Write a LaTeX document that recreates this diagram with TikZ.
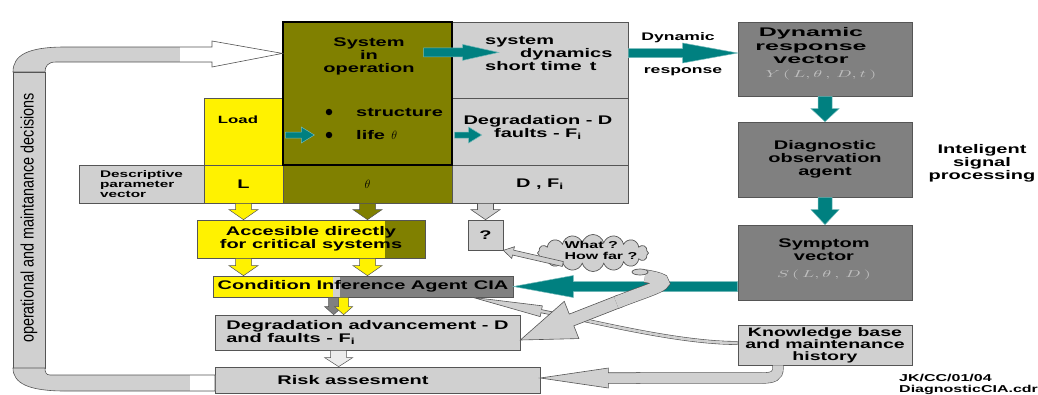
\documentclass[tikz,border=0pt]{standalone}
\usepackage{fontspec}
\setmainfont{Liberation Sans}[FakeStretch=1.6]
\newfontfamily\widefont{Liberation Sans}[FakeStretch=2.0]
\newfontfamily\narrowfont{Liberation Sans}[FakeStretch=0.8]
\usetikzlibrary{calc,shapes.symbols,shapes.geometric}

\definecolor{oliv}{HTML}{808000}
\definecolor{ltgray}{HTML}{D0D0D0}
\definecolor{dkgray}{HTML}{808080}
\definecolor{tealc}{HTML}{008080}
\definecolor{edge}{HTML}{555555}

\tikzset{
  box/.style={draw=edge, line width=0.7pt, inner sep=0pt},
  lbl/.style={font=\bfseries\fontsize{12.5}{13}\selectfont, align=center, inner sep=0pt},
  small/.style={font=\bfseries\fontsize{10}{11}\selectfont, align=left, inner sep=0pt},
  blk/.style n args={3}{to path={
    -- ($(\tikztostart)!#1!90:(\tikztotarget)$)
    -- ($($(\tikztotarget)!#3!(\tikztostart)$)!#1!-90:(\tikztostart)$)
    -- ($($(\tikztotarget)!#3!(\tikztostart)$)!#2!-90:(\tikztostart)$)
    -- (\tikztotarget)
    -- ($($(\tikztotarget)!#3!(\tikztostart)$)!#2!90:(\tikztostart)$)
    -- ($($(\tikztotarget)!#3!(\tikztostart)$)!#1!90:(\tikztostart)$)
    -- ($(\tikztostart)!#1!-90:(\tikztotarget)$)
    -- cycle}},
  tealarr/.style={fill=tealc, draw=tealc!55!white, line width=0.5pt},
  grayarr/.style={fill=ltgray, draw=edge, line width=0.6pt},
  band/.style={draw=ltgray, line width=#1, preaction={draw=edge, line width=#1+1.2pt}},
}

\begin{document}
\begin{tikzpicture}[x=1pt,y=-1pt]
\useasboundingbox (0,0) rectangle (1038,394);

% parameter row
\node[box, fill=ltgray, minimum width=125pt, minimum height=38pt, font=\bfseries\fontsize{9.6}{10}\selectfont, align=left] (desc) at (141.5,184) {Descriptive\\parameter\\vector};
\node[box, fill=yellow, minimum width=79pt, minimum height=38pt, lbl] (lvec) at (243.5,184) {L};
\node[box, fill=oliv, minimum width=169pt, minimum height=38pt, lbl] (thvec) at (367.5,184) {$\theta$};
\node[box, fill=ltgray, minimum width=176pt, minimum height=38pt, lbl] (dfvec) at (540,184) {D , F\textsubscript{i}};

% system blocks
\node[box, fill=yellow, minimum width=79pt, minimum height=67pt] (load) at (243.5,131.5) {};
\node[box, fill=ltgray, minimum width=176pt, minimum height=76pt] (dyn) at (540,60) {};
\node[box, fill=ltgray, minimum width=176pt, minimum height=67pt] (degr) at (540,131.5) {};
\node[box, fill=oliv, draw=black, line width=1.2pt, minimum width=169pt, minimum height=143pt] (sys) at (367.5,93.5) {};

\node[lbl] (systxt) at (369,56) {System\\in\\operation};
\node[circle, fill=black, inner sep=0pt, minimum size=6.5pt] (bul1) at (329,112) {};
\node[circle, fill=black, inner sep=0pt, minimum size=6.5pt] (bul2) at (329,135) {};
\node[lbl, anchor=west] (struct) at (356,112) {structure};
\node[lbl, anchor=west] (life) at (356,135) {life\enspace$\theta$};
\node[lbl, anchor=west, align=left] (dyntxt) at (485,53) {system\\\hspace*{35pt}dynamics\\short time\hspace{8pt}t};
\node[lbl] (degrtxt) at (538,127.5) {Degradation - D\\faults - F\textsubscript{i}};
\node[lbl, font=\bfseries\fontsize{10.5}{12}\selectfont] (loadtxt) at (238,120) {Load};

% diagnostic chain
\node[box, fill=dkgray, minimum width=174pt, minimum height=74pt] (dresp) at (825,59) {};
\node[lbl, font=\widefont\bfseries\fontsize{12.5}{13.5}\selectfont] (dresptxt) at (811,46) {Dynamic\\response\\vector};
\node[inner sep=0pt, text=black!25] (yform) at (821,75) {\scalebox{1.8}[1]{\fontsize{10}{10}\selectfont$Y\,(\,L,\theta\,,\,D,t\,)$}};
\node[box, fill=dkgray, minimum width=174pt, minimum height=75pt, lbl] (diag) at (825,159.5) {Diagnostic\\observation\\agent};
\node[box, fill=dkgray, minimum width=174pt, minimum height=75pt] (symp) at (825,262.5) {};
\node[lbl] (symptxt) at (824,250) {Symptom\\vector};
\node[inner sep=0pt, text=black!25] (sform) at (824,275) {\scalebox{1.8}[1]{\fontsize{10}{10}\selectfont$S\,(\,L,\theta\,,\,D\,)$}};
\node[box, fill=ltgray, minimum width=174pt, minimum height=40pt, lbl, font=\bfseries\fontsize{12.2}{12}\selectfont] (know) at (825,345) {Knowledge base\\and maintenance\\history};
\node[lbl] (isp) at (982,163) {Inteligent\\signal\\processing};
\node[lbl, font=\bfseries\fontsize{11}{12}\selectfont] (dynlab) at (678,38) {Dynamic};
\node[lbl, font=\bfseries\fontsize{11}{12}\selectfont] (resplab) at (683,72) {response};

% inference part
\node[box, fill=yellow, minimum width=228pt, minimum height=38pt, lbl,
  path picture={\fill[oliv] ([xshift=-40pt]path picture bounding box.north east) rectangle (path picture bounding box.south east);}] (acc) at (311,239) {Accesible directly\\for critical systems};
\node[box, fill=dkgray, minimum width=300pt, minimum height=21pt, lbl,
  path picture={\fill[yellow] (path picture bounding box.north west) rectangle ([xshift=120pt]path picture bounding box.south west);
    \fill[ltgray] ([xshift=120pt]path picture bounding box.north west) rectangle ([xshift=127pt]path picture bounding box.south west);}] (cia) at (363,286.5) {Condition Inference Agent\enspace CIA};
\node[box, fill=ltgray, minimum width=35pt, minimum height=30pt, lbl] (qm) at (485.5,235) {?};
\node[box, fill=ltgray, minimum width=305pt, minimum height=35pt, lbl, align=left] (degadv) at (367.5,332.5) {Degradation advancement - D\\and faults - F\textsubscript{i}};
\node[box, fill=ltgray, minimum width=325pt, minimum height=26pt] (risk) at (377.5,380) {};
\node[lbl] (risktxt) at (353,380) {Risk assesment};
\node[small] (foot) at (899,384) [anchor=west] {JK/CC/01/04\\DiagnosticCIA.cdr};

% decision loop
\coordinate (looptip) at ([yshift=-32pt]sys.north west);
\filldraw[fill=ltgray, draw=edge, line width=0.6pt, path picture={\fill[white] (180,30) rectangle (290,80);}]
  (13,72) .. controls (13,55) and (28,47) .. (65,47) -- (212,47) -- (212,41) -- (looptip)
  -- (212,67) -- (212,62) -- (56,62) .. controls (48,62) and (45,66) .. (45,72) -- cycle;
\filldraw[fill=ltgray, draw=edge, line width=0.6pt] (13,72) rectangle (45,368);
\filldraw[fill=ltgray, draw=edge, line width=0.6pt, path picture={\fill[white] (190,360) rectangle (230,400);}]
  (13,368) .. controls (13,383) and (28,391) .. (65,391) -- (215,391) -- (215,375)
  -- (50,375) .. controls (46,375) and (45,372) .. (45,368) -- cycle;
\node[font=\narrowfont\fontsize{18}{20}\selectfont, rotate=90, inner sep=0pt] (opdec) at (29,218) {operational and maintanance decisions};

% block arrows
\filldraw[blk={8pt}{14.5pt}{10pt}, fill=yellow, draw=edge, line width=0.5pt] (lvec.south) to (lvec.south |- acc.north);
\filldraw[blk={8pt}{14.5pt}{10pt}, fill=oliv, draw=edge, line width=0.5pt] (thvec.south) to (thvec.south |- acc.north);
\filldraw[blk={8pt}{14.5pt}{10pt}, grayarr] (qm.north |- dfvec.south) to (qm.north);
\filldraw[blk={8pt}{14.5pt}{10pt}, fill=yellow, draw=edge, line width=0.5pt] (lvec.south |- acc.south) to (lvec.south |- cia.north);
\filldraw[blk={8pt}{14.5pt}{10pt}, fill=yellow, draw=edge, line width=0.5pt] (thvec.south |- acc.south) to (thvec.south |- cia.north);
\coordinate (ciagray) at ([xshift=121pt]cia.south west);
\coordinate (ciayel) at ([xshift=131pt]cia.south west);
\filldraw[blk={5pt}{9pt}{8pt}, fill=dkgray, draw=edge, line width=0.5pt] (ciagray) to (ciagray |- degadv.north);
\filldraw[blk={5pt}{9pt}{8pt}, fill=yellow, draw=edge, line width=0.5pt] (ciayel) to (ciayel |- degadv.north);
\coordinate (degout) at ([xshift=124pt]degadv.south west);
\filldraw[blk={8pt}{14pt}{9pt}, fill=gray!15, draw=edge, line width=0.5pt] (degout) to (degout |- risk.north);

% teal arrows
\coordinate (sysout) at ([shift={(-29pt,-31pt)}]sys.north east);
\coordinate (dynin) at ([shift={(46pt,-31pt)}]sys.north east);
\coordinate (dynout) at ([yshift=7pt]dyn.east);
\filldraw[blk={4.5pt}{8pt}{36pt}, tealarr] (sysout) to (dynin);
\filldraw[blk={3pt}{8pt}{13pt}, tealarr] ([shift={(2pt,-3.5pt)}]load.east) to ([shift={(31pt,-3.5pt)}]load.east);
\filldraw[blk={3pt}{8pt}{13pt}, tealarr] ([shift={(3pt,-3.5pt)}]degr.west) to ([shift={(30pt,-3.5pt)}]degr.west);
\filldraw[blk={4.5pt}{10pt}{55pt}, tealarr] (dynout) to (dynout -| dresp.west);
\filldraw[blk={7pt}{14pt}{13pt}, tealarr] (dresp.south) to (diag.north);
\filldraw[blk={7pt}{14pt}{15pt}, tealarr] (diag.south) to (symp.north);
\filldraw[blk={5pt}{11pt}{60pt}, tealarr] (symp.west |- cia.east) to (cia.east);

% gray bands
\coordinate (ciain) at ([xshift=260pt]cia.south west);
\filldraw[blk={1.6pt}{5.5pt}{70pt}, grayarr] (560,315) to (ciain);
\draw[band=2.6pt] ([yshift=2pt]know.west) .. controls (680,343) and (600,323) .. (557,314.4);
\coordinate (riskin) at ([yshift=2pt]risk.east);
\filldraw[blk={5.3pt}{10pt}{68pt}, grayarr] (640,378) to (riskin);
\draw[band=10pt] ([xshift=-47pt]know.south) -- (778,368) .. controls (778,376) and (773,378) .. (762,378) -- (636,378);
\coordinate (degin) at ([yshift=-7.5pt]degadv.east);
\filldraw[blk={6.3pt}{20pt}{55pt}, grayarr] (620,301) to (degin);
\draw[band=12pt] (645,276) .. controls (682,282) and (657,286.5) .. (616.3,302.5);

% thought cloud
\node[cloud, cloud puffs=16, aspect=3, box, fill=ltgray, minimum width=111pt, minimum height=37pt] (cloud) at (593,253) {};
\node[ellipse, box, fill=ltgray, minimum width=16pt, minimum height=6pt] (bub) at (640,272) {};
\node[small] (cloudtxt) at (601,250) {What ?\\How far ?};
\filldraw[blk={2.5pt}{6pt}{10pt}, grayarr] (cloud.200) to (qm.south east);
\end{tikzpicture}
\end{document}
